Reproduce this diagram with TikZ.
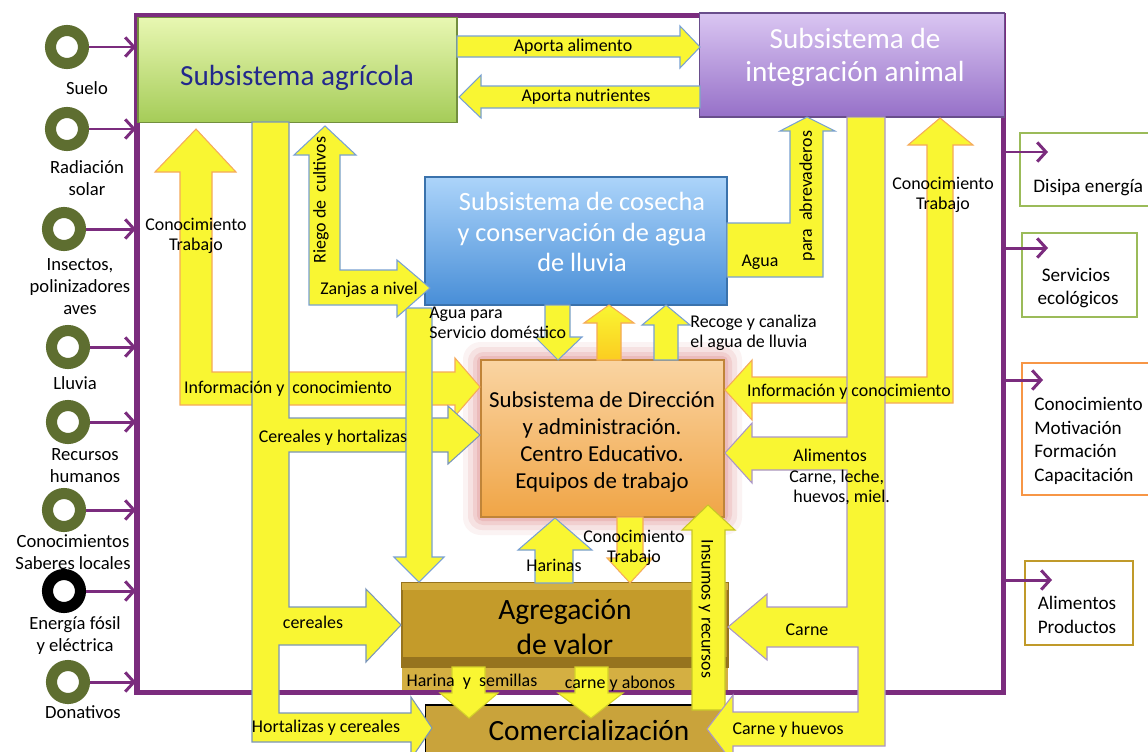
\documentclass[tikz,border=0pt]{standalone}
\usepackage{fontspec}
\setmainfont{Carlito}
\usepackage{xcolor}
\usepackage{tikz}
\usetikzlibrary{arrows.meta}

\definecolor{framepurple}{RGB}{123,44,126}
\definecolor{ringgreen}{RGB}{94,110,48}
\definecolor{ringedge}{RGB}{120,170,215}
\definecolor{fatyellow}{RGB}{249,246,50}
\definecolor{edgeblue}{RGB}{120,160,210}
\definecolor{edgeorange}{RGB}{245,170,90}
\definecolor{edgepurple}{RGB}{170,150,200}
\definecolor{agriTop}{RGB}{232,247,178}
\definecolor{agriBot}{RGB}{165,204,88}
\definecolor{agriText}{RGB}{35,40,140}
\definecolor{animTop}{RGB}{218,198,242}
\definecolor{animBot}{RGB}{150,112,200}
\definecolor{coseTop}{RGB}{172,212,250}
\definecolor{coseBot}{RGB}{72,142,215}
\definecolor{direTop}{RGB}{250,212,162}
\definecolor{direBot}{RGB}{240,165,70}
\definecolor{glowred}{RGB}{215,110,110}
\definecolor{aggGold}{RGB}{196,155,42}
\definecolor{aggDark}{RGB}{150,115,30}
\definecolor{aggLight}{RGB}{212,175,66}
\definecolor{outGreen}{RGB}{155,187,89}
\definecolor{outOrange}{RGB}{247,150,70}
\definecolor{outGold}{RGB}{192,154,42}

\begin{document}
\begin{tikzpicture}[x=0.02cm, y=-0.02cm]
    % Define the styles
    \tikzstyle{ring} = [circle, draw=ringgreen, line width=6.3pt, minimum size=0.66cm, inner sep=0pt, fill=white]
    \tikzstyle{inlabel} = [align=center, inner sep=0pt, font=\fontsize{10.6}{12.5}\selectfont]
    \tikzstyle{flow} = [draw=framepurple, line width=1.7pt, -{Straight Barb[length=5pt,width=11pt]}]
    \tikzstyle{fat} = [fill=fatyellow, draw=edgeblue, line width=0.6pt]
    \tikzstyle{subbox} = [rectangle, draw, line width=0.8pt, inner sep=0pt]
    \tikzstyle{title} = [align=center, inner sep=0pt]
    \tikzstyle{outbox} = [rectangle, draw, line width=1.6pt, inner sep=0pt]
    \tikzstyle{outtext} = [align=left, inner sep=0pt, font=\fontsize{10.9}{13.4}\selectfont]
    \tikzstyle{note} = [align=center, inner sep=0pt, font=\fontsize{10.2}{11.7}\selectfont]

    \useasboundingbox (0,0) rectangle (1148,751);
    \fill[white] (0,0) rectangle (1148,751);

    % Frame of the farm
    \fill[aggLight] (402,667) rectangle (728,693);
    \draw[framepurple, line width=2.85pt] (137,15) rectangle (1003,692);

    % Place the subsystems
    \fill[glowred, opacity=0.08, rounded corners=10pt] (463,342) rectangle (742,535);
    \fill[glowred, opacity=0.12, rounded corners=8pt] (468,347) rectangle (737,530);
    \fill[glowred, opacity=0.16, rounded corners=6pt] (473,352) rectangle (732,525);
    \fill[glowred, opacity=0.2, rounded corners=3pt] (477,356) rectangle (728,521);
    \node [subbox, top color=agriTop, bottom color=agriBot, draw=agriBot!70!black, minimum width=6.38cm, minimum height=2.1cm] (agricola) at (297.5,70) {};
    \node [subbox, top color=animTop, bottom color=animBot, draw=animBot!70!black, minimum width=6.1cm, minimum height=2.08cm] (animal) at (852,65) {};
    \node [subbox, top color=coseTop, bottom color=coseBot, draw=coseBot!80!black, minimum width=6.04cm, minimum height=2.56cm] (cosecha) at (576,241) {};
    \node [subbox, top color=direTop, bottom color=direBot, draw=direBot!80!black, minimum width=4.86cm, minimum height=3.14cm] (direccion) at (602.5,438.5) {};
    \node [subbox, fill=aggGold, draw=aggDark, minimum width=6.52cm, minimum height=1.68cm] (agregacion) at (565,625) {};
    \fill[aggLight] (402,583) rectangle (728,590);
    \fill[aggDark] (402,657) rectangle (728,667);
    \node [subbox, fill=aggGold!92!white, draw=black, line width=0.6pt, minimum width=6.04cm, minimum height=1.2cm] (comercio) at (576,735) {};

    \node [title, text=agriText, font=\fontsize{16.6}{19}\selectfont] (agricolatxt) at (297,78) {Subsistema agrícola};
    \node [title, text=white, font=\fontsize{16.6}{18.8}\selectfont] (animaltxt) at (855,57) {Subsistema de\\integración animal};
    \node [title, text=white, font=\fontsize{15}{17.6}\selectfont] (cosechatxt) at (582,232) {Subsistema de cosecha\\y conservación de agua\\de lluvia};
    \node [title, font=\fontsize{13}{15.2}\selectfont] (direcciontxt) at (602,442) {Subsistema de Dirección\\y administración.\\Centro Educativo.\\Equipos de trabajo};
    \node [title, font=\fontsize{16.8}{20}\selectfont] (agregaciontxt) at (565,627) {Agregación\\de valor};
    \node [title, font=\fontsize{16.7}{20}\selectfont] (comerciotxt) at (589,730) {Comercialización};

    % Inputs on the left
    \node [ring] (suelo) at (67,47) {};
    \node [ring] (radiacion) at (67,129) {};
    \node [ring] (insectos) at (64,229) {};
    \node [ring] (lluvia) at (68,347) {};
    \node [ring] (recursos) at (68,422) {};
    \node [ring] (saberes) at (64,510) {};
    \node [ring, draw=black] (energia) at (64,591) {};
    \node [ring] (donativos) at (68,682) {};

    \node [inlabel] (suelolbl) at (87,88) {Suelo};
    \node [inlabel] (radiacionlbl) at (87,178) {Radiación\\solar};
    \node [inlabel] (insectoslbl) at (80,287) {Insectos,\\polinizadores\\aves};
    \node [inlabel] (lluvialbl) at (75,383) {Lluvia};
    \node [inlabel] (recursoslbl) at (85,466) {Recursos\\humanos};
    \node [inlabel] (saberslbl) at (73,552) {Conocimientos\\Saberes locales};
    \node [inlabel] (energialbl) at (75,636) {Energía fósil\\y eléctrica};
    \node [inlabel] (donativoslbl) at (83,712) {Donativos};

    \coordinate (inSuelo) at (136,47);
    \coordinate (inRadiacion) at (136,129);
    \coordinate (inInsectos) at (136,229);
    \coordinate (inLluvia) at (136,347);
    \coordinate (inRecursos) at (136,422);
    \coordinate (inSaberes) at (136,510);
    \coordinate (inEnergia) at (136,591);
    \coordinate (inDonativos) at (136,682);

    \draw [flow] (suelo) -- (inSuelo);
    \draw [flow] (radiacion) -- (inRadiacion);
    \draw [flow] (insectos) -- (inInsectos);
    \draw [flow] (lluvia) -- (inLluvia);
    \draw [flow] (recursos) -- (inRecursos);
    \draw [flow] (saberes) -- (inSaberes);
    \draw [flow] (energia) -- (inEnergia);
    \draw [flow] (donativos) -- (inDonativos);

    % Outputs on the right
    \node [outbox, draw=outGreen, minimum width=3.0cm, minimum height=1.46cm] (disipa) at (1095,169.5) {};
    \node [outbox, draw=outGreen, minimum width=2.3cm, minimum height=1.68cm] (servicios) at (1079.5,275) {};
    \node [outbox, draw=outOrange, minimum width=2.96cm, minimum height=2.64cm] (formacion) at (1096,429) {};
    \node [outbox, draw=outGold, minimum width=2.16cm, minimum height=1.68cm] (productos) at (1079,603) {};

    \node [outtext, anchor=west] (disipatxt) at (1033,188) {Disipa energía};
    \node [outtext, align=center] (serviciostxt) at (1076,288) {Servicios\\ \ ecológicos};
    \node [outtext, anchor=west] (formaciontxt) at (1034,441) {Conocimiento\\Motivación\\Formación\\Capacitación};
    \node [outtext, align=center] (productostxt) at (1077,615) {Alimentos\\Productos};

    \coordinate (outDisipa) at (1003,152);
    \coordinate (outServicios) at (1003,248);
    \coordinate (outFormacion) at (1003,380);
    \coordinate (outProductos) at (1003,580);
    \coordinate (tipDisipa) at (1048,152);
    \coordinate (tipServicios) at (1048,248);
    \coordinate (tipFormacion) at (1043,380);
    \coordinate (tipProductos) at (1052,580);

    \draw [flow] (outDisipa) -- (tipDisipa);
    \draw [flow] (outServicios) -- (tipServicios);
    \draw [flow] (outFormacion) -- (tipFormacion);
    \draw [flow] (outProductos) -- (tipProductos);

    % Flows between the subsystems
    \draw [fat] (457,36) -- (680,36) -- (680,26) -- (700,47) -- (680,68) -- (680,57) -- (457,57) -- cycle;
    \draw [fat] (700,86) -- (481,86) -- (481,75) -- (459,97) -- (481,118) -- (481,108) -- (700,108) -- cycle;
    \draw [fat, draw=edgeorange] (196,129) -- (236,172) -- (212,172) -- (212,372) -- (455,372) -- (455,358) -- (480,387) -- (455,416) -- (455,405) -- (180,405) -- (180,172) -- (155,172) -- cycle;
    \draw [fat, draw=edgeblue!70!gray] (252,122) -- (289,122) -- (289,418) -- (448,418) -- (448,406) -- (480,435) -- (448,464) -- (448,452) -- (289,452) -- (289,607) -- (366,607) -- (366,589) -- (401,625) -- (366,662) -- (366,645) -- (279,645) -- (279,713) -- (411,713) -- (411,697) -- (432,728) -- (411,759) -- (411,742) -- (252,742) -- cycle;
    \draw [fat] (406,308) -- (432,308) -- (432,557) -- (444,557) -- (419,582) -- (394,557) -- (406,557) -- cycle;
    \draw [fat] (325,126) -- (356,155) -- (340,155) -- (340,270) -- (397,270) -- (397,260) -- (430,288) -- (397,317) -- (397,305) -- (309,305) -- (309,155) -- (294,155) -- cycle;
    \draw [fat] (545,305) -- (570,305) -- (570,337) -- (582,337) -- (558,360) -- (535,337) -- (545,337) -- cycle;
    \draw [fat, draw=edgeorange, top color=fatyellow, bottom color=orange!35!fatyellow] (597,360) -- (597,323) -- (584,323) -- (609,305) -- (634,323) -- (621,323) -- (621,360) -- cycle;
    \draw [fat] (654,360) -- (654,325) -- (642,325) -- (666,305) -- (690,325) -- (678,325) -- (678,360) -- cycle;
    \draw [fat] (727,223) -- (790,223) -- (790,131) -- (780,131) -- (807,117) -- (835,131) -- (823,131) -- (823,277) -- (727,277) -- cycle;
    \draw [fat, draw=edgeorange] (940,118) -- (973,145) -- (953,145) -- (953,403) -- (752,403) -- (752,420) -- (725,390) -- (752,360) -- (752,377) -- (927,377) -- (927,145) -- (908,145) -- cycle;
    \draw [fat, draw=fatyellow!80!black] (692,710) -- (692,530) -- (682,530) -- (708,505) -- (735,530) -- (725,530) -- (725,710) -- cycle;
    \draw [fat, draw=edgepurple] (847,117) -- (885,117) -- (885,746) -- (733,746) -- (733,763) -- (707,729) -- (733,695) -- (733,712) -- (858,712) -- (858,647) -- (767,647) -- (767,660) -- (728,627) -- (767,594) -- (767,607) -- (847,607) -- (847,470) -- (752,470) -- (752,483) -- (725,453) -- (752,423) -- (752,437) -- (847,437) -- cycle;
    \draw [fat] (535,583) -- (535,550) -- (518,550) -- (555,518) -- (592,550) -- (573,550) -- (573,583) -- cycle;
    \draw [fat, draw=edgeorange] (617,517) -- (643,517) -- (643,558) -- (653,558) -- (630,583) -- (607,558) -- (617,558) -- cycle;
    \draw [fat, draw=fatyellow!85!black] (452,667) -- (485,667) -- (485,693) -- (498,693) -- (469,718) -- (440,693) -- (452,693) -- cycle;
    \draw [fat, draw=fatyellow!85!black] (575,667) -- (608,667) -- (608,693) -- (623,693) -- (591,718) -- (558,693) -- (575,693) -- cycle;

    % Labels of the flows
    \node [note] (alimentolbl) at (573,47) {Aporta alimento};
    \node [note] (nutrienteslbl) at (586,97) {Aporta nutrientes};
    \node [note] (trabajoizq) at (196,236) {Conocimiento\\Trabajo};
    \node [note] (infoizq) at (288,389) {Información y \ conocimiento};
    \node [note] (cerealeshort) at (333,438) {Cereales y hortalizas};
    \node [note] (cerealeslbl) at (313,622) {cereales};
    \node [note] (hortalizaslbl) at (326,728) {Hortalizas y cereales};
    \node [note, rotate=90] (riegolbl) at (321,200) {Riego de \ cultivos};
    \node [note] (zanjaslbl) at (369,290) {Zanjas a nivel};
    \node [note, align=left, anchor=west] (domesticolbl) at (429,323) {Agua para\\Servicio doméstico};
    \node [note, align=left, anchor=west] (recogelbl) at (690,333) {Recoge y canaliza\\el agua de lluvia};
    \node [note] (agualbl) at (760,262) {Agua};
    \node [note, rotate=90] (abrevaderoslbl) at (807,196) {para \ abrevaderos};
    \node [note] (trabajoder) at (943,195) {Conocimiento\\Trabajo};
    \node [note] (infoder) at (849,392) {Información y conocimiento};
    \node [note, align=left, anchor=west] (alimentoslbl) at (789,477) {\ Alimentos\\Carne, leche,\\\ huevos, miel.};
    \node [note] (carnelbl) at (807,630) {Carne};
    \node [note] (huevoslbl) at (788,730) {Carne y huevos};
    \node [note] (harinaslbl) at (554,565) {Harinas};
    \node [note] (trabajocen) at (634,548) {Conocimiento\\Trabajo};
    \node [note] (semillaslbl) at (472,682) {Harina \ y \ semillas};
    \node [note] (abonoslbl) at (620,684) {carne y abonos};
    \node [note, rotate=-90] (insumoslbl) at (706,609) {Insumos y recursos};
\end{tikzpicture}
\end{document}
